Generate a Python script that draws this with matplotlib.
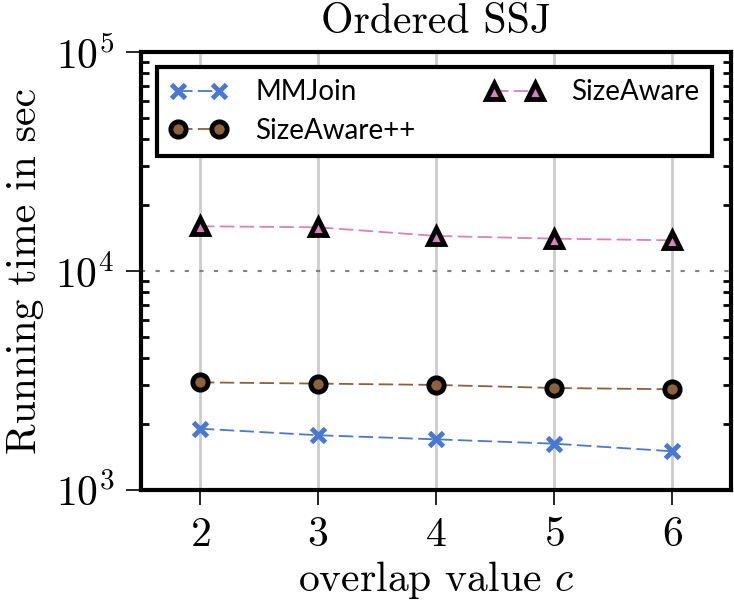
import matplotlib
matplotlib.use("Agg")
import matplotlib.pyplot as plt
from matplotlib.ticker import LogLocator, NullFormatter

plt.rcParams['font.family'] = 'serif'
plt.rcParams['font.serif'] = ['cmr10']
plt.rcParams['mathtext.fontset'] = 'cm'
plt.rcParams['axes.formatter.use_mathtext'] = True

# overlap values and running times (sec)
c_values = [2, 3, 4, 5, 6]
mmjoin = [1905, 1778, 1703, 1627, 1502]
sizeaware_pp = [3100, 3060, 3017, 2922, 2883]
sizeaware = [16000, 15830, 14450, 14050, 13800]

fig = plt.figure(figsize=(7.34, 6.13), dpi=100)
ax = fig.add_axes([0.192, 0.2007, 0.804, 0.7145])

dash = (0, (8, 3))
ax.plot(c_values, mmjoin, linestyle=dash, lw=1.3, color="#4878d0",
        marker="x", ms=10, mew=3.5, label="MMJoin", zorder=3)
ax.plot(c_values, sizeaware_pp, linestyle=dash, lw=1.3, color="#8c613c",
        marker="o", ms=11, mfc="#8c613c", mec="black", mew=3.5,
        label="SizeAware++", zorder=3)
ax.plot(c_values, sizeaware, linestyle=dash, lw=1.3, color="#dc7ec0",
        marker="^", ms=12, mfc="#dc7ec0", mec="black", mew=3.5,
        label="SizeAware", zorder=3)

ax.set_yscale("log")
ax.set_ylim(1e3, 1e5)
ax.set_xlim(1.5, 6.5)
ax.set_xticks(c_values)
ax.yaxis.set_minor_locator(LogLocator(base=10, subs=range(2, 10)))
ax.yaxis.set_minor_formatter(NullFormatter())

ax.grid(axis="x", color="#cccccc", lw=2, zorder=0)
ax.grid(axis="y", which="major", color="gray", lw=1.5, linestyle=(0, (2, 5)), zorder=0)

for s in ax.spines.values():
    s.set_linewidth(3)
ax.tick_params(axis="both", which="major", direction="out", length=11, width=1.2,
               labelsize=30, pad=8, top=False, right=False)
ax.tick_params(axis="y", which="minor", direction="in", length=6, width=2,
               left=True, right=True)

ax.set_title("Ordered SSJ", fontsize=30, pad=14)
ax.set_xlabel("overlap value $c$", fontsize=30, labelpad=4)
ax.set_ylabel("Running time in sec", fontsize=30, labelpad=8)

leg = ax.legend(ncol=2, loc="upper left", bbox_to_anchor=(0.027, 0.966),
                borderaxespad=0, numpoints=2, fancybox=False, frameon=True,
                borderpad=0.45, columnspacing=2.5, handlelength=2.1,
                handletextpad=1.0, labelspacing=0.45,
                prop={"family": "Lato", "size": 20})
leg.get_frame().set_edgecolor("black")
leg.get_frame().set_linewidth(3)
leg.get_frame().set_alpha(1)

fig.savefig("out.png", dpi=100)
